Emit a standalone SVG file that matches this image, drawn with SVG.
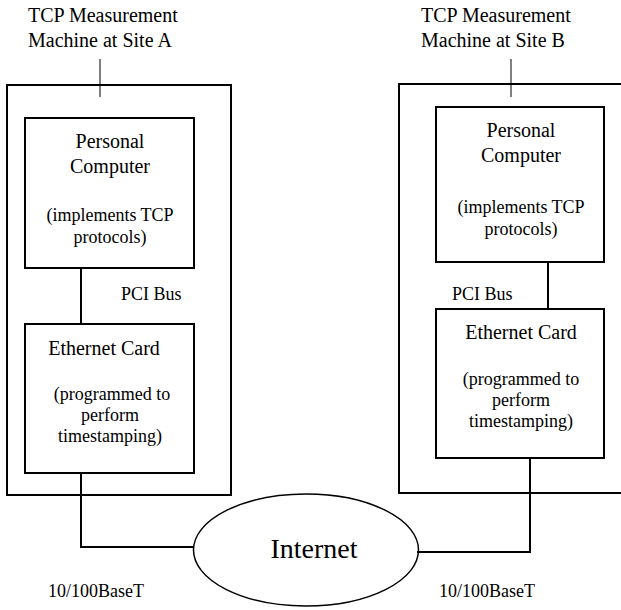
<svg xmlns="http://www.w3.org/2000/svg" width="621" height="610" viewBox="0 0 621 610">
<defs>
<rect id="dummy" width="0" height="0"/>
</defs>
<rect width="621" height="610" fill="#fff"/>
<g id="connectors" fill="none" stroke="#000" stroke-width="2">
<line stroke-width="1" x1="100" y1="59" x2="100" y2="97"/>
<line stroke-width="1" x1="511" y1="59" x2="511" y2="97"/>
<line x1="81" y1="268" x2="81" y2="324"/>
<line x1="548" y1="262" x2="548" y2="309"/>
<polyline points="81,473 81,547 194,547"/>
<polyline points="530,458 530,552 417,552"/>
</g>
<g id="siteA">
<rect fill="none" stroke="#000" stroke-width="2" x="7" y="85" width="224" height="410"/>
<text font-family="Liberation Serif" font-size="20" x="28" y="22">TCP Measurement</text>
<text font-family="Liberation Serif" font-size="20" x="28" y="47">Machine at Site A</text>
</g>
<g id="siteB">
<rect fill="none" stroke="#000" stroke-width="2" x="399" y="84" width="240" height="409"/>
<text font-family="Liberation Serif" font-size="20" x="421" y="22">TCP Measurement</text>
<text font-family="Liberation Serif" font-size="20" x="421" y="47">Machine at Site B</text>
</g>
<g id="pcA">
<rect fill="none" stroke="#000" stroke-width="2" x="25" y="118" width="169" height="150"/>
<text font-family="Liberation Serif" font-size="20" text-anchor="middle" x="110" y="148">Personal</text>
<text font-family="Liberation Serif" font-size="20" text-anchor="middle" x="110" y="173">Computer</text>
<text font-family="Liberation Serif" font-size="18" text-anchor="middle" x="110" y="221">(implements TCP</text>
<text font-family="Liberation Serif" font-size="18" text-anchor="middle" x="110" y="243">protocols)</text>
</g>
<g id="ethA">
<rect fill="none" stroke="#000" stroke-width="2" x="25" y="324" width="169" height="149"/>
<text font-family="Liberation Serif" font-size="20" text-anchor="middle" x="104" y="355">Ethernet Card</text>
<text font-family="Liberation Serif" font-size="18" text-anchor="middle" x="112" y="400">(programmed to</text>
<text font-family="Liberation Serif" font-size="18" text-anchor="middle" x="110" y="421">perform</text>
<text font-family="Liberation Serif" font-size="18" text-anchor="middle" x="110" y="442">timestamping)</text>
</g>
<g id="pcB">
<rect fill="none" stroke="#000" stroke-width="2" x="436" y="107" width="168" height="155"/>
<text font-family="Liberation Serif" font-size="20" text-anchor="middle" x="521" y="137">Personal</text>
<text font-family="Liberation Serif" font-size="20" text-anchor="middle" x="521" y="162">Computer</text>
<text font-family="Liberation Serif" font-size="18" text-anchor="middle" x="521" y="213">(implements TCP</text>
<text font-family="Liberation Serif" font-size="18" text-anchor="middle" x="521" y="235">protocols)</text>
</g>
<g id="ethB">
<rect fill="none" stroke="#000" stroke-width="2" x="436" y="309" width="168" height="149"/>
<text font-family="Liberation Serif" font-size="20" text-anchor="middle" x="521" y="339">Ethernet Card</text>
<text font-family="Liberation Serif" font-size="18" text-anchor="middle" x="521" y="385">(programmed to</text>
<text font-family="Liberation Serif" font-size="18" text-anchor="middle" x="521" y="406">perform</text>
<text font-family="Liberation Serif" font-size="18" text-anchor="middle" x="521" y="427">timestamping)</text>
</g>
<g id="internet">
<ellipse cx="306" cy="550" rx="112.5" ry="56" fill="none" stroke="#000" stroke-width="1.5"/>
<text font-family="Liberation Serif" font-size="28" text-anchor="middle" x="314" y="558">Internet</text>
</g>
<g id="labels">
<text font-family="Liberation Serif" font-size="18" x="121" y="300">PCI Bus</text>
<text font-family="Liberation Serif" font-size="18" x="452" y="300">PCI Bus</text>
<text font-family="Liberation Serif" font-size="18" x="48" y="597">10/100BaseT</text>
<text font-family="Liberation Serif" font-size="18" x="439" y="597">10/100BaseT</text>
</g>
</svg>
